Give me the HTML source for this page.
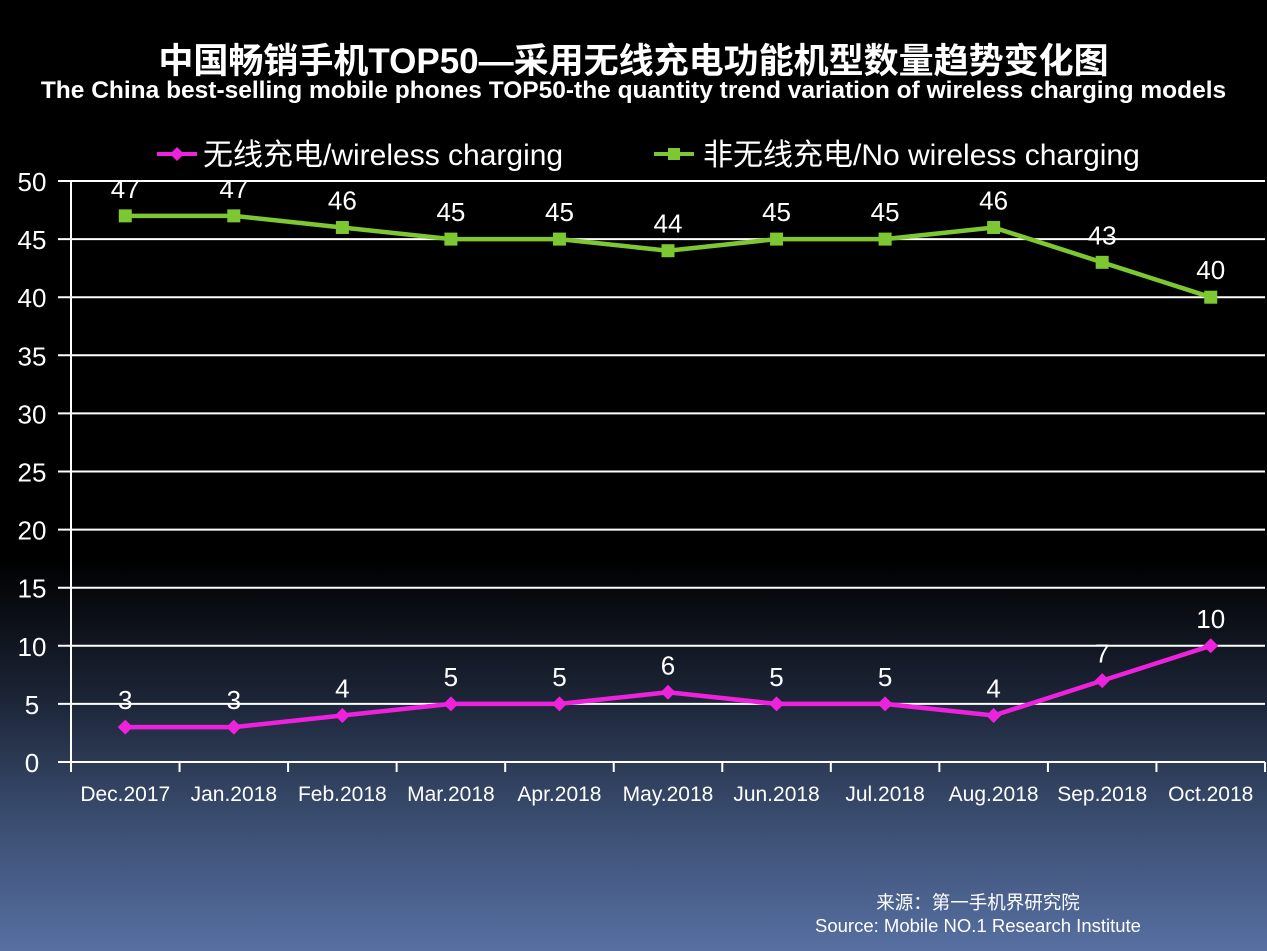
<!DOCTYPE html>
<html><head><meta charset="utf-8"><style>
html,body{margin:0;padding:0}
body{width:1267px;height:951px;overflow:hidden;background:linear-gradient(to bottom,#000 0px,#000 560px,#1a2233 690px,#3a4d70 820px,#5770a2 951px);font-family:"Liberation Sans","Noto Sans CJK SC",sans-serif;color:#fff;position:relative}
.t{position:absolute;left:0;width:1267px;text-align:center;font-weight:bold}
</style></head><body>
<div class="t" style="top:33px;font-size:35px">中国畅销手机TOP50—采用无线充电功能机型数量趋势变化图</div>
<div class="t" style="top:77px;font-size:24.5px">The China best-selling mobile phones TOP50-the quantity trend variation of wireless charging models</div>
<svg id="c" width="1267" height="951" style="position:absolute;left:0;top:0"></svg>
<div style="position:absolute;left:778px;top:891px;width:400px;text-align:center;font-size:18.5px;line-height:23px">来源：第一手机界研究院<br>Source: Mobile NO.1 Research Institute</div>
<script>
const categories=["Dec.2017","Jan.2018","Feb.2018","Mar.2018","Apr.2018","May.2018","Jun.2018","Jul.2018","Aug.2018","Sep.2018","Oct.2018"];
const wireless=[3,3,4,5,5,6,5,5,4,7,10];
const nonWireless=[47,47,46,45,45,44,45,45,46,43,40];
const yTicks=[0,5,10,15,20,25,30,35,40,45,50];
const NS="http://www.w3.org/2000/svg";
const svg=document.getElementById('c');
const x0=71,x1=1265,y0=762,y1=181,yMax=50;
const slot=(x1-x0)/categories.length;
const X=i=>x0+slot*(i+0.5);
const Y=v=>y0-(v/yMax)*(y0-y1);
function el(t,a,p){const e=document.createElementNS(NS,t);for(const k in a)e.setAttribute(k,a[k]);(p||svg).appendChild(e);return e;}
yTicks.forEach(v=>{
 const g=el('line',{x1:58,x2:x1,y1:Y(v),y2:Y(v),stroke:'#fff','stroke-width':2});
 
 
 const t=el('text',{x:32,y:Y(v)+10,'text-anchor':'middle','font-size':26,fill:'#fff','font-family':'Liberation Sans,sans-serif'});
 t.textContent=v;
 
 
});
const ax=el('line',{x1:x0,x2:x0,y1:y1,y2:y0+9,stroke:'#fff','stroke-width':2});


for(let i=0;i<=categories.length;i++){const tk=el('line',{x1:x0+slot*i,x2:x0+slot*i,y1:y0,y2:y0+10,stroke:'#fff','stroke-width':2});
 
 }
categories.forEach((c,i)=>{const t=el('text',{x:X(i),y:801,'text-anchor':'middle','font-size':21,fill:'#fff','font-family':'Liberation Sans,sans-serif'});t.textContent=c;
 
 });
function series(data,color,marker,name){
 const p=el('polyline',{points:data.map((v,i)=>X(i)+','+Y(v)).join(' '),fill:'none',stroke:color,'stroke-width':4.5});
 
 
 data.forEach((v,i)=>{const cx=X(i),cy=Y(v);let m;
  if(marker==='sq')m=el('rect',{x:cx-6.5,y:cy-6.5,width:13,height:13,fill:color});
  else m=el('polygon',{points:`${cx},${cy-7.5} ${cx+7.5},${cy} ${cx},${cy+7.5} ${cx-7.5},${cy}`,fill:color});
  
  
  const t=el('text',{x:cx,y:cy-18,'text-anchor':'middle','font-size':26,fill:'#fff','font-family':'Liberation Sans,sans-serif'});t.textContent=v;
  
  });
}
series(nonWireless,'#7dc832','sq','no-wireless');
series(wireless,'#ee22dd','dia','wireless');
const lg=el('g',{});


el('line',{x1:157,x2:197,y1:154,y2:154,stroke:'#ee22dd','stroke-width':4},lg);
el('polygon',{points:'177,147 184,154 177,161 170,154',fill:'#ee22dd'},lg);
const l1=el('text',{x:203,y:165,'font-size':30,fill:'#fff','font-family':'Liberation Sans,Noto Sans CJK SC,sans-serif'},lg);l1.textContent='无线充电/wireless charging';


el('line',{x1:654,x2:694,y1:154,y2:154,stroke:'#7dc832','stroke-width':4},lg);
el('rect',{x:668,y:148,width:12,height:12,fill:'#7dc832'},lg);
const l2=el('text',{x:703,y:165,'font-size':30,fill:'#fff','font-family':'Liberation Sans,Noto Sans CJK SC,sans-serif'},lg);l2.textContent='非无线充电/No wireless charging';


</script>
</body></html>
